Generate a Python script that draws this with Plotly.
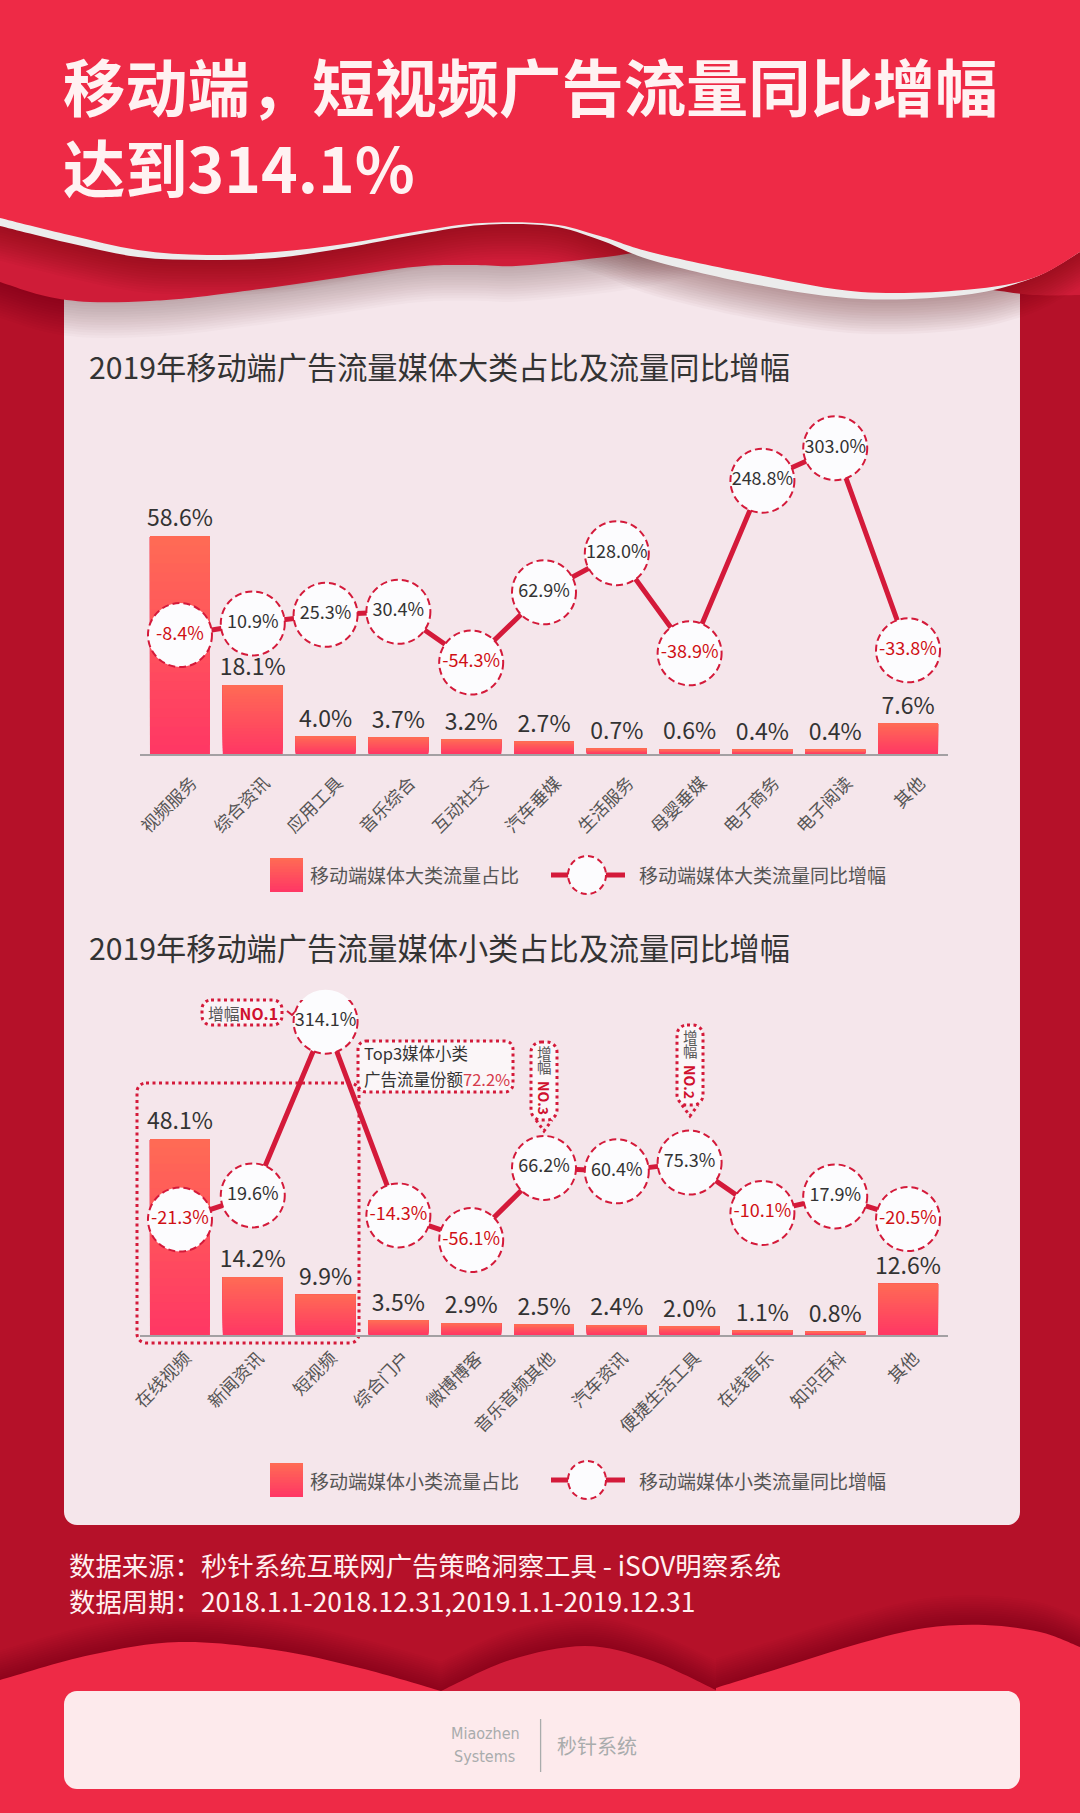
import plotly.graph_objects as go

W, H = 1080, 1813
FONT = "Noto Sans CJK SC"

# ---------- data ----------
cats_major = ["视频服务", "综合资讯", "应用工具", "音乐综合", "互动社交", "汽车垂媒",
              "生活服务", "母婴垂媒", "电子商务", "电子阅读", "其他"]
share_major = [58.6, 18.1, 4.0, 3.7, 3.2, 2.7, 0.7, 0.6, 0.4, 0.4, 7.6]
growth_major = [-8.4, 10.9, 25.3, 30.4, -54.3, 62.9, 128.0, -38.9, 248.8, 303.0, -33.8]

cats_minor = ["在线视频", "新闻资讯", "短视频", "综合门户", "微博博客", "音乐音频其他",
              "汽车资讯", "便捷生活工具", "在线音乐", "知识百科", "其他"]
share_minor = [48.1, 14.2, 9.9, 3.5, 2.9, 2.5, 2.4, 2.0, 1.1, 0.8, 12.6]
growth_minor = [-21.3, 19.6, 314.1, -14.3, -56.1, 66.2, 60.4, 75.3, -10.1, 17.9, -20.5]

# ---------- colours ----------
RED = "#EE2A46"; DARK = "#B51129"; MID = "#CF1C38"; CARD = "#F5E6EB"
LINE = "#D41A3A"; NEG = "#D01015"; INK = "#333333"; GREY = "#555555"
GRAD_TOP = (255, 106, 85); GRAD_BOT = (255, 56, 100)
N = 24


def grad(t):
    return "rgb(%d,%d,%d)" % tuple(round(b + (a - b) * t) for a, b in zip(GRAD_TOP, GRAD_BOT))


def px(x):
    return x / W


def py(y):
    return 1 - y / H


def smooth(points, close_to=None, dy=0):
    pts = [(x, y + dy) for x, y in points]
    d = "M %.5f %.5f" % (px(pts[0][0]), py(pts[0][1]))
    for i in range(len(pts) - 1):
        p0 = pts[max(i - 1, 0)]; p1 = pts[i]; p2 = pts[i + 1]; p3 = pts[min(i + 2, len(pts) - 1)]
        c1 = (p1[0] + (p2[0] - p0[0]) / 6, p1[1] + (p2[1] - p0[1]) / 6)
        c2 = (p2[0] - (p3[0] - p1[0]) / 6, p2[1] - (p3[1] - p1[1]) / 6)
        d += " C %.5f %.5f %.5f %.5f %.5f %.5f" % (px(c1[0]), py(c1[1]), px(c2[0]), py(c2[1]), px(p2[0]), py(p2[1]))
    if close_to:
        for x, y in close_to:
            d += " L %.5f %.5f" % (px(x), py(y))
    return d + " Z"


def rrect(x0, y0, x1, y1, r):
    k = r * 0.45
    seq = [
        ("M", x0 + r, y0), ("L", x1 - r, y0),
        ("C", x1 - k, y0, x1, y0 + k, x1, y0 + r), ("L", x1, y1 - r),
        ("C", x1, y1 - k, x1 - k, y1, x1 - r, y1), ("L", x0 + r, y1),
        ("C", x0 + k, y1, x0, y1 - k, x0, y1 - r), ("L", x0, y0 + r),
        ("C", x0, y0 + k, x0 + k, y0, x0 + r, y0),
    ]
    out = []
    for s in seq:
        vals = s[1:]
        coords = []
        for i in range(0, len(vals), 2):
            coords.append("%.5f %.5f" % (px(vals[i]), py(vals[i + 1])))
        out.append(s[0] + " " + " ".join(coords))
    return " ".join(out) + " Z"


shapes = []


def add_path(path, fill=None, line=None, width=0, dash=None, layer="below", opacity=None):
    s = dict(type="path", xref="paper", yref="paper", path=path, layer=layer,
             line=dict(width=width, color=line or "rgba(0,0,0,0)"))
    if dash:
        s["line"]["dash"] = dash
    if fill:
        s["fillcolor"] = fill
    if opacity is not None:
        s["opacity"] = opacity
    shapes.append(s)


def add_rect(x0, y0, x1, y1, fill, layer="below"):
    shapes.append(dict(type="rect", xref="paper", yref="paper", x0=px(x0), x1=px(x1),
                       y0=py(y0), y1=py(y1), fillcolor=fill, line=dict(width=0), layer=layer))


# ---------- decorative background ----------
add_path(rrect(64, 240, 1020, 1525, 13), fill=CARD)

wave2 = [(0, 282), (45, 296), (90, 302), (150, 301), (207, 296), (310, 282), (413, 267),
         (470, 265), (516, 266), (580, 260), (640, 252), (700, 240), (760, 240), (1080, 240)]
wave2b = [(964, 288), (985, 289), (1033, 295), (1080, 295)]
wave_main = [(0, 218), (69, 235), (138, 250), (207, 255), (275, 252), (344, 244), (420, 231), (482, 223),
             (551, 224), (600, 236), (654, 253), (758, 275), (861, 292), (964, 290), (1033, 278), (1080, 252)]
stripe = [(0, 226), (69, 243), (138, 257), (207, 260), (275, 258), (344, 248), (420, 234), (482, 225),
          (551, 226), (600, 240), (654, 261), (758, 285), (861, 299), (964, 295), (1033, 278), (1080, 252)]
top_close = [(W, 0), (0, 0)]
SHADOW = "#400010"
STEPS = 14

# soft shadow over card and side panels
for i in range(STEPS):
    dy = 2 + i * 2.6
    add_path(smooth(wave2, [(0, 0)], dy), fill=SHADOW, opacity=.018)
add_path(smooth(wave2, [(0, 0)]), fill=MID)
add_path(smooth(wave2b, [(1080, 230), (964, 230)]), fill=MID)
for i in range(STEPS):
    dy = 1 + i * 2.6
    add_path(smooth(stripe, top_close, dy), fill=SHADOW, opacity=.026)
add_path(smooth(stripe, top_close), fill="#ECECEC")
add_path(smooth(wave_main, top_close), fill=RED)

# bottom mountains
mid_m = [(441, 1691), (510, 1660), (585, 1646), (650, 1660), (716, 1690)]
left_m = [(0, 1680), (90, 1655), (179, 1642), (275, 1650), (360, 1668), (441, 1691)]
right_m = [(716, 1688), (790, 1665), (861, 1643), (925, 1628), (985, 1625), (1040, 1632), (1080, 1647)]
for i in range(STEPS):
    dy = -1 - i * 2.2
    add_path(smooth(left_m, [(441, 1813), (0, 1813)], dy), fill=SHADOW, opacity=.02)
    add_path(smooth(right_m, [(1080, 1813), (716, 1813)], dy), fill=SHADOW, opacity=.02)
    add_path(smooth(mid_m, [(716, 1813), (441, 1813)], dy), fill=SHADOW, opacity=.02)
add_path(smooth(mid_m, [(716, 1760), (441, 1760)]), fill=MID)
add_path(smooth(left_m, [(441, 1813), (0, 1813)]), fill=RED)
add_path(smooth(right_m, [(1080, 1813), (716, 1813)]), fill=RED)
add_rect(0, 1730, 1080, 1813, RED)
add_path(rrect(64, 1691, 1020, 1789, 13), fill="#FDEAEC")
shapes.append(dict(type="line", xref="paper", yref="paper", x0=px(540.6), x1=px(540.6), y0=py(1719), y1=py(1772),
                   line=dict(color="#A9ACAC", width=1.3), layer="below"))

# ---------- axes mapping ----------
X_RANGE = [-0.549, 10.549]
P1_TOP, P1_BOT = 400, 754
P2_TOP, P2_BOT = 1000, 1335
BAR1_FLOOR = -0.7
BAR1_PXPER = 3.67
BAR2_PXPER = 4.07
G_PXPER_1 = 0.60
G_ZERO_1 = 630
G_PXPER_2 = 0.59
G_ZERO_2 = 1207

fig = go.Figure()


def add_panel(cats, share, growth, xa, ya, ya2, floor):
    for k in range(N):
        t = k / (N - 1)
        heights = [(v - floor) * (1 - k / N) for v in share]
        bases = [floor + (v - floor) * k / N for v in share]
        kw = {}
        if k == 0:
            kw = dict(text=["%.1f%%" % v for v in share], textposition="outside", constraintext="none",
                      textfont=dict(family=FONT, size=23, color=INK), cliponaxis=False)
        fig.add_trace(go.Bar(x=cats, y=heights, base=bases, width=60 / 72.8,
                             marker=dict(color=grad(t), line=dict(width=0)),
                             xaxis=xa, yaxis=ya, showlegend=False, hoverinfo="skip", **kw))
    fig.add_trace(go.Scatter(
        x=cats, y=growth, mode="lines+markers+text", xaxis=xa, yaxis=ya2, showlegend=False,
        line=dict(color=LINE, width=5),
        marker=dict(size=64, color="#FCFCFE", line=dict(width=0), opacity=1),
        text=["%.1f%%" % v for v in growth], textposition="middle center",
        textfont=dict(family=FONT, size=18, color=[NEG if v < 0 else INK for v in growth]),
        cliponaxis=False, hoverinfo="skip"))
    for i, v in enumerate(growth):
        shapes.append(dict(type="circle", xref=xa, yref=ya2, xsizemode="pixel", ysizemode="pixel",
                           xanchor=i, yanchor=v, x0=-32, x1=32, y0=-32, y1=32,
                           line=dict(color=LINE, width=2, dash="7px,4px"), layer="above"))


add_panel(cats_major, share_major, growth_major, "x", "y", "y2", BAR1_FLOOR)
add_panel(cats_minor, share_minor, growth_minor, "x2", "y3", "y4", 0)

annots = []


def txt(x, y, s, size, color=INK, anchor="left", weight=None, angle=0, family=FONT):
    f = dict(family=family, size=size, color=color)
    if weight:
        f["weight"] = weight
    annots.append(dict(x=px(x), y=py(y), xref="paper", yref="paper", text=s, showarrow=False,
                       xanchor=anchor, yanchor="middle", font=f, align="left", textangle=angle))


# header and titles
txt(61, 125, "移动端，短视频广告流量同比增幅<br>达到314.1%", 62.3, "#FFF2F2", weight=700)
txt(87, 366, "2019年移动端广告流量媒体大类占比及流量同比增幅", 30.2)
txt(87, 947, "2019年移动端广告流量媒体小类占比及流量同比增幅", 30.2)


# legends
def legend(yc, bar_name, line_name):
    for k in range(12):
        y0 = yc - 17 + 34 * k / 12
        add_rect(270, y0, 303, yc + 17, grad(1 - k / 11), layer="below")
    txt(308, yc, bar_name, 19, GREY)
    shapes.append(dict(type="line", xref="paper", yref="paper", x0=px(551), x1=px(625), y0=py(yc), y1=py(yc),
                       line=dict(color=LINE, width=5), layer="below"))
    shapes.append(dict(type="circle", xref="paper", yref="paper", x0=px(568), x1=px(606),
                       y0=py(yc + 19), y1=py(yc - 19), fillcolor="#FCFCFE",
                       line=dict(color=LINE, width=2, dash="6px,4px"), layer="below"))
    txt(637, yc, line_name, 19, GREY)


legend(875, "移动端媒体大类流量占比", "移动端媒体大类流量同比增幅")
legend(1480, "移动端媒体小类流量占比", "移动端媒体小类流量同比增幅")

# callouts
DOT = dict(line=LINE, width=3, dash="3px,3.5px", layer="below")
add_path(rrect(137, 1083, 359, 1343, 9), **DOT)
add_path(rrect(202, 1000, 282, 1025, 9), fill="#FAF3F6", **DOT)
add_path(rrect(358, 1041, 513, 1092, 8), fill="#FBF6F8", **DOT)
add_path(rrect(531, 1042, 557, 1120, 10), fill="#FBF6F8", **DOT)
add_path(rrect(677, 1025, 703, 1105, 10), fill="#FBF6F8", **DOT)
shapes.append(dict(type="path", xref="paper", yref="paper",
                   path="M %.5f %.5f L %.5f %.5f L %.5f %.5f" % (px(536), py(1120), px(544), py(1131), px(552), py(1120)),
                   line=dict(color=LINE, width=3, dash="3px,3.5px"), layer="below"))
shapes.append(dict(type="path", xref="paper", yref="paper",
                   path="M %.5f %.5f L %.5f %.5f L %.5f %.5f" % (px(682), py(1105), px(690), py(1116), px(698), py(1105)),
                   line=dict(color=LINE, width=3, dash="3px,3.5px"), layer="below"))
shapes.append(dict(type="path", xref="paper", yref="paper",
                   path="M %.5f %.5f L %.5f %.5f L %.5f %.5f" % (px(287), py(1011), px(292), py(1015), px(295), py(1012)),
                   line=dict(color=LINE, width=2), layer="below"))

NO_RED = "#D0102E"
txt(206, 1013, "<span style='color:#555'>增幅</span><b style='color:%s'>NO.1</b>" % NO_RED, 15.8)
txt(362, 1053, "Top3媒体小类", 16.5, "#333")
txt(362, 1079, "广告流量份额<span style='color:#D63B4C'>72.2%</span>", 16.5, "#333")
for xc, ys, lab in [(544, (1052, 1066, 1098), "NO.3"), (690, (1036, 1050, 1082), "NO.2")]:
    txt(xc, ys[0], "增", 14.5, "#555", anchor="center")
    txt(xc, ys[1], "幅", 14.5, "#555", anchor="center")
    txt(xc, ys[2], "<b>%s</b>" % lab, 14, NO_RED, anchor="center", angle=90)

# source and footer
txt(67, 1564, "数据来源：秒针系统互联网广告策略洞察工具 - iSOV明察系统", 26.4, "#FFF0F0")
txt(67, 1600, "数据周期：2018.1.1-2018.12.31,2019.1.1-2019.12.31", 26.4, "#FFF0F0")
txt(449, 1733, "Miaozhen", 16, "#A9ACAC", family="DejaVu Sans Condensed, Liberation Sans")
txt(452, 1756, "Systems", 16, "#A9ACAC", family="DejaVu Sans Condensed, Liberation Sans")
txt(555, 1745, "秒针系统", 20, "#A9ACAC")


def xaxis(domain_anchor, standoff, shift):
    return dict(domain=[140 / W, 948 / W], range=X_RANGE, type="category", anchor=domain_anchor,
                showgrid=False, zeroline=False, showline=True, linecolor="#A3A0A3", linewidth=2,
                ticks="", tickangle=-45, ticklabelstandoff=standoff, ticklabelshift=shift, automargin=False,
                tickfont=dict(family=FONT, size=17.5, color=GREY), fixedrange=True)


def yaxis(top, bot, rng, **kw):
    return dict(domain=[py(bot), py(top)], range=rng, visible=False, fixedrange=True, automargin=False, **kw)


fig.update_layout(
    width=W, height=H, autosize=False, margin=dict(l=0, r=0, t=0, b=0, pad=0, autoexpand=False),
    paper_bgcolor=DARK, plot_bgcolor="rgba(0,0,0,0)", barmode="overlay", showlegend=False,
    font=dict(family=FONT),
    xaxis=xaxis("y", 10, 12),
    xaxis2=xaxis("y3", 4, 6),
    yaxis=yaxis(P1_TOP, P1_BOT, [BAR1_FLOOR, BAR1_FLOOR + (P1_BOT - P1_TOP) / BAR1_PXPER]),
    yaxis2=yaxis(P1_TOP, P1_BOT, [(G_ZERO_1 - P1_BOT) / G_PXPER_1, (G_ZERO_1 - P1_TOP) / G_PXPER_1],
                 overlaying="y", anchor="x"),
    yaxis3=yaxis(P2_TOP, P2_BOT, [0, (P2_BOT - P2_TOP) / BAR2_PXPER], anchor="x2"),
    yaxis4=yaxis(P2_TOP, P2_BOT, [(G_ZERO_2 - P2_BOT) / G_PXPER_2, (G_ZERO_2 - P2_TOP) / G_PXPER_2],
                 overlaying="y3", anchor="x2"),
    shapes=shapes, annotations=annots,
)

fig.write_html("out.html", config=dict(displayModeBar=False),
               post_script="document.body.style.margin='0';document.documentElement.style.overflow='hidden';")
